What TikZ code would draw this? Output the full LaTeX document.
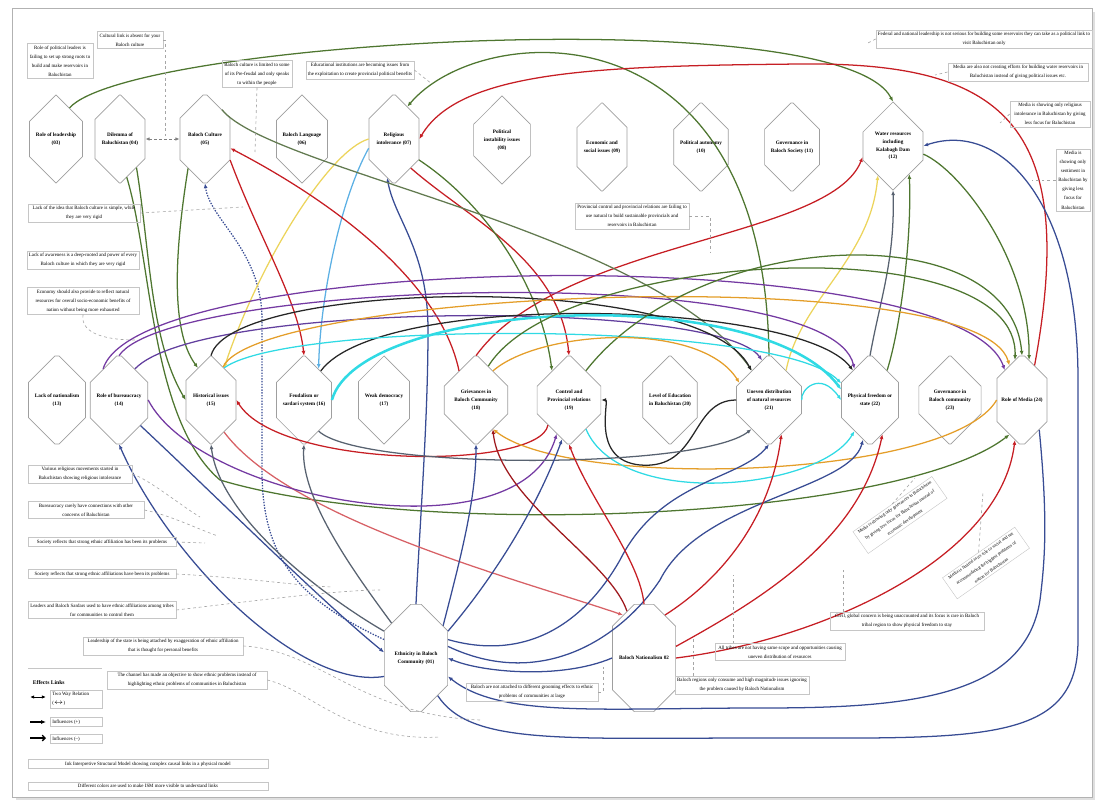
\documentclass[tikz,border=0pt]{standalone}
\usepackage{fontspec}
\setmainfont{Liberation Serif}
\usetikzlibrary{arrows.meta,positioning,shapes.misc,calc}

\definecolor{LinkGreen}{RGB}{78,118,48}
\definecolor{LinkRed}{RGB}{198,30,36}
\definecolor{LinkBlue}{RGB}{56,76,148}
\definecolor{LinkPurple}{RGB}{116,58,162}
\definecolor{LinkCyan}{RGB}{48,218,228}
\definecolor{LinkOrange}{RGB}{228,158,42}
\definecolor{LinkYellow}{RGB}{236,212,92}
\definecolor{LinkSlate}{RGB}{88,98,112}
\definecolor{LinkSky}{RGB}{92,176,228}

\tikzset{
  factor/.style={chamfered rectangle, chamfered rectangle xsep=0.3cm,
    chamfered rectangle ysep=0.5cm, draw=gray!75, line width=0.5pt, fill=white,
    minimum width=1.25cm, minimum height=2.2cm, inner sep=0pt, align=center,
    font=\fontsize{3.7}{5.6}\selectfont\bfseries},
  bigfactor/.style={factor, minimum width=1.58cm, minimum height=2.68cm},
  note/.style={draw=gray!45, line width=0.3pt, inner sep=1.5pt, align=flush center,
    text width=#1, font=\fontsize{3.5}{6.5}\selectfont},
  link/.style={line width=0.9pt, -{Latex[length=3.4pt,width=2.8pt]}},
  twoway/.style={line width=0.6pt, {Latex[length=3pt,width=2.5pt]}-{Latex[length=3pt,width=2.5pt]}},
  tie/.style={draw=gray!70, line width=0.45pt, dash pattern=on 2pt off 2pt}
}

\begin{document}
\begin{tikzpicture}[x=0.025cm,y=-0.025cm]
  \useasboundingbox (0,0) rectangle (1099,803);
  % frame
  \draw[gray!25, line width=2pt] (16,799) -- (1094,799) -- (1094,12);
  \draw[gray!60, line width=0.5pt] (12,8) rectangle (1092,797);

  % factors, top row
  \node[factor] (n03) at (56,139) {Role of leadership\\(03)};
  \node[factor] (n04) at (120,139) {Dilemma of\\Baluchistan (04)};
  \node[factor] (n05) at (205,139) {Baloch Culture\\(05)};
  \node[factor] (n06) at (302,139) {Baloch Language\\(06)};
  \node[factor] (n07) at (394,139) {Religious\\intolerance (07)};
  \node[factor] (n08) at (502,140) {Political\\instability issues\\(08)};
  \node[factor] (n09) at (602,147) {Economic and\\social issues (09)};
  \node[factor] (n10) at (701,147) {Political autonomy\\(10)};
  \node[factor] (n11) at (792,147) {Governance in\\Baloch Society (11)};
  \node[factor] (n12) at (893,146) {Water resources\\including\\Kalabagh Dam\\(12)};
  % factors, middle row
  \node[factor] (n13) at (57,400) {Lack of nationalism\\(13)};
  \node[factor] (n14) at (119,400) {Role of bureaucracy\\(14)};
  \node[factor] (n15) at (211,400) {Historical issues\\(15)};
  \node[factor] (n16) at (304,400) {Feudalism or\\sardari system (16)};
  \node[factor] (n17) at (384,400) {Weak democracy\\(17)};
  \node[factor] (n18) at (476,400) {Grievances in\\Baloch Community\\(18)};
  \node[factor] (n19) at (569,400) {Control and\\Provincial relations\\(19)};
  \node[factor] (n20) at (670,400) {Level of Education\\in Baluchistan (20)};
  \node[factor] (n21) at (769,400) {Uneven distribution\\of natural resources\\(21)};
  \node[factor] (n22) at (870,400) {Physical freedom or\\state (22)};
  \node[factor] (n23) at (950,400) {Governance in\\Baloch community\\(23)};
  \node[factor] (n24) at (1022,400) {Role of Media (24)};
  % factors, bottom
  \node[bigfactor] (n01) at (416,658) {Ethnicity in Baloch\\Community (01)};
  \node[bigfactor] (n02) at (644,658) {Baloch Nationalism 02};

  % links over the top
  \draw[link,LinkGreen] (n03.north east) .. controls (130,40) and (840,0) .. (n12.north);
  \draw[link,LinkGreen] (n21.north) .. controls (765,0) and (480,20) .. (n07.north east);
  \draw[link,LinkRed] (n24.70) .. controls (1080,120) and (1000,62) .. (800,64)
    .. controls (600,66) and (460,70) .. (n07.east);
  \draw[link,LinkBlue] (n01.-60) .. controls (470,745) and (560,738) .. (760,738)
    .. controls (980,738) and (1078,745) .. (1078,640) -- (1078,380)
    .. controls (1078,200) and (1000,120) .. (n12.east);
  \draw[link,LinkBlue] (n24.-60) .. controls (1048,520) and (1045,560) .. (1040,600)
    .. controls (1025,700) and (900,708) .. (760,708)
    .. controls (600,708) and (500,718) .. (n01.-30);
  \draw[link,LinkGreen] (n12.-15) .. controls (960,170) and (1030,260) .. (n24.80);
  \draw[link,LinkYellow] (n21.60) .. controls (800,300) and (870,260) .. (n12.south west);
  \draw[link,LinkSlate] (n22.north) .. controls (880,300) and (895,260) .. (n12.south);
  \draw[link,LinkGreen] (n22.60) .. controls (900,330) and (912,240) .. (n12.-60);
  \draw[link,LinkRed] (n18.north) .. controls (560,240) and (830,240) .. (n12.200);

  % links from the top row
  \draw[twoway,gray,dash pattern=on 2pt off 1.5pt] (n04.east) -- (n05.west);
  \draw[link,LinkGreen] (n04.-60) .. controls (150,250) and (150,340) .. (n15.west);
  \draw[link,LinkGreen] (n05.-120) .. controls (175,250) and (170,330) .. (n15.north west);
  \draw[link,LinkGreen] (n04.-80) .. controls (152,260) and (150,420) .. (220,480)
    .. controls (420,540) and (900,520) .. (n24.-110);
  \draw[link,LinkBlue,dash pattern=on 1pt off 1pt] (n01.150) .. controls (300,600) and (262,560) .. (262,470)
    -- (262,320) .. controls (262,250) and (210,220) .. (n05.south);
  \draw[link,LinkBlue] (n01.north) .. controls (420,520) and (428,420) .. (428,330)
    .. controls (428,250) and (395,220) .. (n07.-100);
  \draw[link,LinkSky] (n07.200) .. controls (340,200) and (320,300) .. (n16.north east);
  \draw[link,LinkYellow] (n07.west) .. controls (330,150) and (260,260) .. (n15.north east);
  \draw[link,LinkRed] (n18.north west) .. controls (440,280) and (330,200) .. (n05.-20);
  \draw[link,LinkRed] (n07.-60) .. controls (470,220) and (560,260) .. (n19.north);
  \draw[link,LinkGreen] (n07.-40) .. controls (480,200) and (540,280) .. (n19.north west);
  \draw[link,LinkGreen!60!gray] (n05.60) .. controls (270,170) and (650,230) .. (n21.120);
  \draw[link,LinkRed] (n05.-40) .. controls (260,240) and (298,300) .. (n16.north);

  % arcs over the middle row
  \draw[link,LinkPurple] (n14.north west) .. controls (140,250) and (960,240) .. (n24.120);
  \draw[link,LinkPurple] (n14.north) .. controls (170,280) and (830,260) .. (n22.north west);
  \draw[link,LinkPurple!70!LinkBlue] (n14.north east) .. controls (200,300) and (720,300) .. (n21.100);
  \draw[link,black!85] (n15.north) .. controls (230,280) and (700,270) .. (n21.north west);
  \draw[link,black!85] (n16.60) .. controls (380,290) and (800,300) .. (n22.120);
  \draw[link,LinkCyan] (n15.north east) .. controls (290,320) and (780,320) .. (n22.150);
  \draw[link,LinkCyan,line width=1.8pt] (n16.east) .. controls (360,300) and (760,280) .. (n22.160);
  \draw[link,LinkCyan] (n21.east) .. controls (800,390) and (820,370) .. (n22.west);
  \draw[link,LinkOrange] (n15.70) .. controls (260,290) and (980,260) .. (n24.110);
  \draw[link,LinkGreen] (n19.60) .. controls (700,225) and (1010,215) .. (n24.north);
  \draw[link,LinkGreen] (n18.70) .. controls (560,250) and (1020,225) .. (n24.100);
  \draw[link,LinkOrange] (n18.north east) .. controls (540,330) and (700,320) .. (n21.150);
  \draw[link,black!85] (n21.west) .. controls (690,400) and (700,470) .. (640,465)
    .. controls (590,460) and (610,400) .. (n19.east);

  % links under the middle row
  \draw[link,LinkRed] (n19.-130) .. controls (540,470) and (280,470) .. (n15.east);
  \draw[link,LinkRed!70] (n15.south east) .. controls (290,520) and (520,580) .. (n02.north west);
  \draw[link,LinkOrange] (n24.west) .. controls (950,480) and (570,490) .. (n18.south east);
  \draw[link,LinkPurple] (n14.east) .. controls (200,500) and (520,560) .. (n19.-110);
  \draw[link,LinkCyan] (n19.south east) .. controls (620,510) and (820,490) .. (n22.south west);
  \draw[link,LinkSlate] (n16.south east) .. controls (360,470) and (700,470) .. (n21.south west);
  \draw[link,LinkBlue] (n01.-150) .. controls (300,690) and (170,560) .. (n14.south);
  \draw[link,LinkBlue] (n14.-50) .. controls (220,500) and (320,600) .. (n01.170);
  \draw[link,LinkSlate] (n01.125) .. controls (360,580) and (300,500) .. (n16.south);
  \draw[link,LinkSlate] (n01.140) .. controls (330,600) and (220,520) .. (n15.south);
  \draw[link,LinkBlue] (n01.50) .. controls (460,560) and (476,500) .. (n18.south);
  \draw[link,LinkBlue] (n01.40) .. controls (500,570) and (540,500) .. (n19.-100);
  \draw[link,LinkBlue] (n01.30) .. controls (520,660) and (580,630) .. (620,560)
    .. controls (660,480) and (740,480) .. (n21.south);
  \draw[link,LinkBlue] (n01.20) .. controls (540,690) and (620,640) .. (660,580)
    .. controls (700,500) and (850,490) .. (n22.-100);
  \draw[link,LinkBlue] (n02.west) .. controls (560,680) and (480,672) .. (n01.east);
  \draw[link,LinkRed] (n02.north) .. controls (640,560) and (590,500) .. (n19.south);
  \draw[link,LinkRed!80!black] (n02.110) .. controls (610,560) and (500,500) .. (n18.-60);
  \draw[link,LinkRed] (n02.north east) .. controls (720,580) and (770,520) .. (n21.-70);
  \draw[link,LinkRed] (n02.20) .. controls (760,600) and (860,540) .. (n22.-70);
  \draw[link,LinkRed] (n02.east) .. controls (820,640) and (1000,560) .. (n24.-100);

  % notes, top
  \node[note=1.55cm] (A1) at (60,61) {Role of political leaders is failing to set up strong roots to build and make reservoirs in Baluchistan};
  \node[note=1.55cm] (A2) at (130,40) {Cultural link is absent for your Baloch culture};
  \node[note=1.65cm] (A3) at (257,74) {Baloch culture is limited to some of its Pre-feudal and only speaks to within the people};
  \node[note=2.6cm] (A4) at (360,70) {Educational institutions are becoming issues from the exploitation to create provincial political benefits};
  \node[note=5.3cm] (A5) at (984,39) {Federal and national leadership is not serious for building some reservoirs they can take as a political link to visit Baluchistan only};
  \node[note=3.4cm] (A6) at (1018,72) {Media are also not creating efforts for building water reservoirs in Baluchistan instead of giving political issues etc.};
  \node[note=1.9cm] (A7) at (1050,114) {Media is showing only religious intolerance in Baluchistan by giving less focus for Baluchistan};
  \node[note=0.75cm] (A8) at (1073,180) {Media is showing only sentiment in Baluchistan by giving less focus for Baluchistan};
  \node[note=2.75cm] (A9) at (632,216) {Provincial control and provincial relations are failing to use natural to build sustainable provincials and reservoirs in Baluchistan};
  % notes, left
  \node[note=2.7cm] (A10) at (84,213) {Lack of the idea that Baloch culture is simple, while they are very rigid};
  \node[note=2.7cm] (A11) at (83,260) {Lack of awareness is a deep-rooted and power of every Baloch culture in which they are very rigid};
  \node[note=2.7cm] (A12) at (83,301) {Economy should also provide to reflect natural resources for overall socio-economic benefits of nation without being more exhausted};
  \node[note=2.5cm] (A13) at (80,474) {Various religious movements started in Baluchistan showing religious intolerance};
  \node[note=2.8cm] (A14) at (86,510) {Bureaucracy rarely have connections with other concerns of Baluchistan};
  \node[note=3.6cm] (A15) at (102,542) {Society reflects that strong ethnic affiliation has been its problems};
  \node[note=3.6cm] (A16) at (102,574) {Society reflects that strong ethnic affiliations have been its problems};
  \node[note=3.6cm] (A17) at (102,610) {Leaders and Baloch Sardars used to have ethnic affiliations among tribes for communities to control them};
  \node[note=3.9cm] (A18) at (163,646) {Leadership of the state is being attached by exaggeration of ethnic affiliation that is thought for personal benefits};
  \node[note=3.9cm] (A19) at (187,680) {The channel has made an objective to show ethnic problems instead of highlighting ethnic problems of communities in Baluchistan};
  \node[note=5.9cm] (A20) at (148,764) {Ink Interpretive Structural Model showing complex causal links in a physical model};
  \node[note=5.9cm] (A21) at (148,786) {Different colors are used to make ISM more visible to understand links};
  % notes, bottom
  \node[note=3.2cm] (A22) at (532,692) {Baloch are not attached to different grooming effects to ethnic problems of communities at large};
  \node[note=3.15cm] (A23) at (780,652) {All tribes are not having same scope and opportunities causing uneven distribution of resources};
  \node[note=3.25cm] (A24) at (742,685) {Baloch regions only consume and high magnitude issues ignoring the problem caused by Baloch Nationalism};
  \node[note=3.75cm] (A25) at (907,621) {Civil, global concern is being unaccounted and its focus is rare in Baloch tribal region to show physical freedom to stay};
  \node[note=2.3cm, rotate=35, font=\fontsize{3.2}{6.5}\selectfont] (A26) at (900,515) {Media is showing only grievances in Baluchistan by giving less focus for Baluchistan instead of economic development};
  \node[note=2.1cm, rotate=35, font=\fontsize{3.2}{6.5}\selectfont] (A27) at (986,563) {Media is limited in its role to social and not accommodating the biggest problems of nation for Baluchistan};

  % ties from notes to links
  \draw[tie] (A2.east) -| (165,136);
  \draw[tie] (A3.south) -- (255,152);
  \draw[tie] (A4.east) -- (432,84);
  \draw[tie] (A5.west) -- (866,44);
  \draw[tie] (A6.west) -- (935,75);
  \draw[tie] (A7.west) -- (1000,123);
  \draw[tie] (A8.west) -- (1032,180);
  \draw[tie] (A9.east) -| (710,252);
  \draw[tie] (A10.east) -- (243,207);
  \draw[tie] (A12.south) .. controls (80,335) and (110,340) .. (135,340);
  \draw[tie] (A13.east) .. controls (150,480) and (180,505) .. (200,517);
  \draw[tie] (A14.east) .. controls (170,515) and (200,530) .. (218,536);
  \draw[tie] (A15.east) -- (205,543);
  \draw[tie] (A16.east) .. controls (250,578) and (300,586) .. (333,587);
  \draw[tie] (A17.east) .. controls (260,600) and (340,590) .. (380,590);
  \draw[tie] (A18.east) .. controls (320,650) and (360,715) .. (480,720);
  \draw[tie] (A19.east) .. controls (310,690) and (350,742) .. (440,737);
  \draw[tie] (A22.east) -| (603,667);
  \draw[tie] (A23.north -| 733,0) -- (733,575);
  \draw[tie] (A24.north -| 693,0) -- (693,637);
  \draw[tie] (A25.north -| 843,0) -- (843,567);
  \draw[tie] (A26.north) -- (915,478);
  \draw[tie] (A27.north) -- (983,492);

  % legend
  \draw[gray!45, line width=0.3pt] (28,668) -- (102,668);
  \node[anchor=west, font=\fontsize{4}{5}\selectfont\bfseries] (legtitle) at (28,683) {Effects Links};
  \coordinate (lgA) at (30,697); \coordinate (lgB) at (46,697);
  \draw[twoway,black] (lgA) -- (lgB);
  \node[note=1.2cm, anchor=west, align=flush left] (legtwo) at (50,699) {Two Way Relation\\($\leftrightarrow$)};
  \coordinate (lgC) at (30,722); \coordinate (lgD) at (46,722);
  \draw[link,black] (lgC) -- (lgD);
  \node[note=1.2cm, anchor=west, align=flush left] (legplus) at (50,722) {Influences (+)};
  \coordinate (lgE) at (30,738); \coordinate (lgF) at (46,738);
  \draw[black, line width=0.9pt, -{Straight Barb[length=2pt]}] (lgE) -- (lgF);
  \node[note=1.2cm, anchor=west, align=flush left] (legminus) at (50,739) {Influences (–)};
\end{tikzpicture}
\end{document}
